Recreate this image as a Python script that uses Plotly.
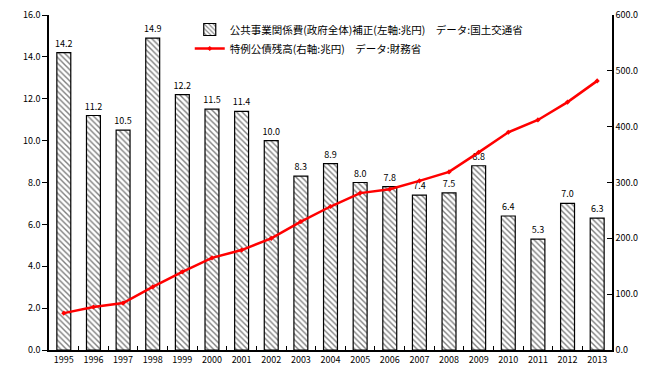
import plotly.graph_objects as go

years = ["1995", "1996", "1997", "1998", "1999", "2000", "2001", "2002", "2003", "2004",
         "2005", "2006", "2007", "2008", "2009", "2010", "2011", "2012", "2013"]
public_works = [14.2, 11.2, 10.5, 14.9, 12.2, 11.5, 11.4, 10.0, 8.3, 8.9,
                8.0, 7.8, 7.4, 7.5, 8.8, 6.4, 5.3, 7.0, 6.3]
deficit_bonds = [66, 77, 84, 113, 140, 165, 179, 200, 230, 257,
                 281, 288, 303, 319, 354, 390, 412, 444, 482]

bar_name = "公共事業関係費(政府全体)補正(左軸:兆円)　データ:国土交通省"
line_name = "特例公債残高(右軸:兆円)　データ:財務省"

font_family = "Noto Sans CJK JP, Noto Sans, sans-serif"

fig = go.Figure()
fig.add_trace(go.Bar(
    x=years, y=public_works, name=bar_name,
    marker=dict(color="white", line=dict(color="black", width=1.2),
                pattern=dict(shape="\\", fgcolor="black", bgcolor="white", size=4, solidity=0.35)),
    text=[f"{v:.1f}" for v in public_works], textposition="outside", textangle=0,
    constraintext="none",
    textfont=dict(size=9, color="black"), cliponaxis=False,
))
fig.add_trace(go.Scatter(
    x=years, y=deficit_bonds, name=line_name, yaxis="y2", mode="lines+markers",
    line=dict(color="#ff0000", width=2.5),
    marker=dict(symbol="diamond", size=4, color="#ff0000"),
))

fig.update_layout(
    width=662, height=373,
    margin=dict(l=41, r=58, t=7, b=31, autoexpand=False),
    paper_bgcolor="white", plot_bgcolor="white",
    font=dict(family=font_family, size=10, color="black"),
    bargap=0.53,
    showlegend=True,
    legend=dict(x=0.25, y=1.0, xanchor="left", yanchor="top",
                bgcolor="rgba(255,255,255,0)", font=dict(size=10.5),
                tracegroupgap=0, itemwidth=30),
    xaxis=dict(type="category", range=[-0.5, 18.5], showline=True, linecolor="black", linewidth=1.5,
               ticks="inside", tickson="boundaries", ticklen=4, tickcolor="black",
               tickangle=0, tickfont=dict(size=9), showgrid=False, automargin=False),
    yaxis=dict(range=[0, 16], dtick=2, tickformat=".1f", showline=True, linecolor="black",
               linewidth=1.5, ticks="outside", ticklen=5, tickcolor="black",
               showgrid=False, zeroline=False, tickfont=dict(size=9), automargin=False),
    yaxis2=dict(range=[0, 600], dtick=100, tickformat=".1f", overlaying="y", side="right",
                showline=True, linecolor="black", linewidth=1.5, ticks="inside", ticklen=5,
                tickcolor="black", showgrid=False, zeroline=False, tickfont=dict(size=9),
                automargin=False),
)

fig.write_html("out.html")
